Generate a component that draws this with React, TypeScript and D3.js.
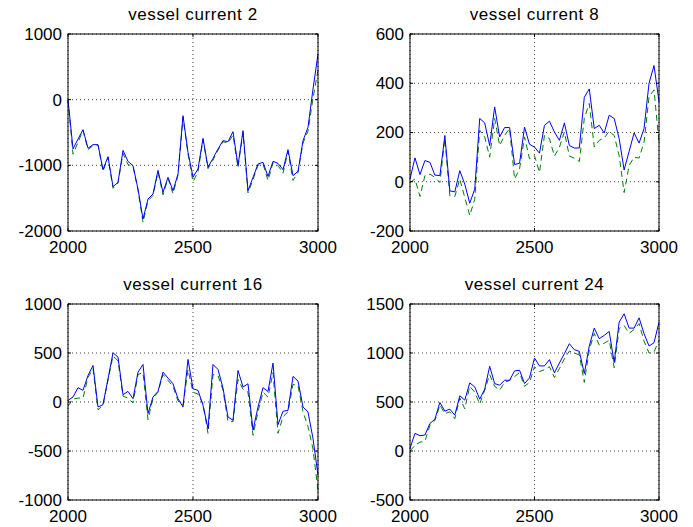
import React, { useEffect, useRef } from "react";
import * as d3 from "d3";

// sample positions along x (2000 .. 3000, every 20)
const xVals = d3.range(2000, 3001, 20);

const titles = ["vessel current 2", "vessel current 8", "vessel current 16", "vessel current 24"];

const yDomains: [number, number][] = [[-2000, 1000], [-200, 600], [-1000, 1000], [-500, 1500]];
const yTicks = [
  [-2000, -1000, 0, 1000],
  [-200, 0, 200, 400, 600],
  [-1000, -500, 0, 500, 1000],
  [-500, 0, 500, 1000, 1500],
];
const xTicks = [2000, 2500, 3000];

// vessel current 2
const blue2 = [0, -750, -600, -457, -740, -685, -685, -1066, -868, -1325, -1260, -772, -940, -1005, -1360, -1817,
  -1513, -1437, -1076, -1411, -1183, -1386, -1132, -244, -802, -1180, -1056, -589, -1030, -893, -751, -624, -640,
  -487, -1005, -472, -1386, -1183, -980, -954, -1168, -939, -970, -1066, -761, -1157, -1091, -624, -421, 162, 695];
const green2 = [0, -830, -650, -470, -760, -700, -690, -1090, -880, -1350, -1270, -820, -990, -1010, -1380, -1870,
  -1540, -1460, -1100, -1450, -1200, -1430, -1150, -270, -830, -1250, -1100, -610, -1050, -920, -770, -640, -660,
  -540, -1030, -500, -1420, -1220, -1000, -980, -1230, -960, -1000, -1120, -790, -1230, -1110, -660, -480, 20, 450];

// vessel current 8
const blue8 = [11, 97, 29, 86, 79, 27, 25, 188, -37, -41, 45, -10, -87, -30, 257, 239, 147, 304, 182, 220, 220, 70,
  75, 222, 152, 141, 116, 229, 246, 202, 168, 239, 147, 137, 137, 343, 377, 216, 229, 198, 270, 257, 175, 48, 123,
  198, 157, 216, 400, 472, 325];
const green8 = [-3, 11, -60, 25, 31, 18, -3, 175, -57, -60, 11, -64, -137, -71, 209, 182, 100, 257, 147, 188, 216, 11,
  52, 182, 93, 106, 38, 188, 175, 104, 140, 202, 104, 96, 82, 257, 318, 141, 168, 178, 205, 188, 106, -44, 66, 100,
  96, 161, 345, 373, 160];

// vessel current 16
const blue16 = [17, 51, 146, 119, 271, 373, -51, -27, 237, 502, 458, 75, 108, 34, 305, 383, -119, 51, 108, 305, 244,
  186, 34, -51, 434, 135, 119, -34, -271, 383, 332, 142, -153, -186, 322, 153, 186, -288, -51, 146, 108, 397, -231,
  -95, -85, 261, 214, -51, -102, -373, -746];
const green16 = [-44, 30, 40, 40, 250, 340, -80, -30, 220, 470, 420, 60, 40, -10, 280, 300, -180, 40, 100, 280, 220,
  160, 10, -30, 330, 100, 80, -20, -320, 280, 270, 120, -200, -200, 230, 130, 100, -340, -100, 100, 50, 300, -320,
  -150, -100, 180, 170, -100, -250, -480, -900];

// vessel current 24
const blue24 = [27, 180, 156, 163, 281, 325, 495, 407, 427, 366, 563, 519, 695, 654, 529, 631, 864, 688, 671, 722,
  722, 817, 824, 688, 746, 949, 868, 868, 932, 797, 898, 993, 1095, 1034, 1017, 790, 1071, 1254, 1146, 1180, 1220,
  902, 1315, 1400, 1254, 1254, 1359, 1197, 1071, 1105, 1315];
const green24 = [0, 60, 90, 100, 260, 310, 470, 380, 400, 330, 540, 430, 660, 600, 480, 620, 780, 660, 620, 700, 720,
  760, 800, 660, 700, 860, 810, 830, 860, 750, 840, 940, 1020, 1000, 980, 700, 1030, 1200, 1080, 1100, 1130, 850,
  1250, 1280, 1200, 1240, 1300, 1120, 1000, 1010, 1130];

const blues = [blue2, blue8, blue16, blue24];
const greens = [green2, green8, green16, green24];

const App = () => {
  const svgRef = useRef<SVGSVGElement | null>(null);

  useEffect(() => {
    const svg = d3.select(svgRef.current);
    svg.selectAll("*").remove();

    const font = "Liberation Sans, Arial, Helvetica, sans-serif";
    const cols = [[68, 318], [410, 659]];
    const rows = [[34, 231], [304, 500]];

    titles.forEach((title, i) => {
      const [x0, x1] = cols[i % 2];
      const [y0, y1] = rows[Math.floor(i / 2)];

      const x = d3.scaleLinear().domain([2000, 3000]).range([x0, x1]);
      const y = d3.scaleLinear().domain(yDomains[i]).range([y1, y0]);

      const g = svg.append("g");

      // white plot area
      g.append("rect").attr("x", x0).attr("y", y0).attr("width", x1 - x0).attr("height", y1 - y0).attr("fill", "#fff");

      // dotted grid
      g.selectAll(".gx").data(xTicks).join("line")
        .attr("x1", d => x(d)).attr("x2", d => x(d)).attr("y1", y0).attr("y2", y1)
        .attr("stroke", "#444").attr("stroke-width", 1).attr("stroke-dasharray", "1,3");
      g.selectAll(".gy").data(yTicks[i]).join("line")
        .attr("x1", x0).attr("x2", x1).attr("y1", d => y(d)).attr("y2", d => y(d))
        .attr("stroke", "#444").attr("stroke-width", 1).attr("stroke-dasharray", "1,3");

      const line = d3.line<number>().x((_, k) => x(xVals[k])).y(d => y(d));

      g.append("path").datum(greens[i])
        .attr("fill", "none").attr("stroke", "#008000").attr("stroke-width", 1)
        .attr("stroke-dasharray", "6,4").attr("d", line);
      g.append("path").datum(blues[i])
        .attr("fill", "none").attr("stroke", "#0000ff").attr("stroke-width", 1).attr("d", line);

      // inward ticks on all four sides
      const tl = 3;
      xTicks.forEach(t => {
        g.append("line").attr("x1", x(t)).attr("x2", x(t)).attr("y1", y1).attr("y2", y1 - tl).attr("stroke", "#000");
        g.append("line").attr("x1", x(t)).attr("x2", x(t)).attr("y1", y0).attr("y2", y0 + tl).attr("stroke", "#000");
      });
      yTicks[i].forEach(t => {
        g.append("line").attr("x1", x0).attr("x2", x0 + tl).attr("y1", y(t)).attr("y2", y(t)).attr("stroke", "#000");
        g.append("line").attr("x1", x1).attr("x2", x1 - tl).attr("y1", y(t)).attr("y2", y(t)).attr("stroke", "#000");
      });

      // box
      g.append("rect").attr("x", x0).attr("y", y0).attr("width", x1 - x0).attr("height", y1 - y0)
        .attr("fill", "none").attr("stroke", "#000").attr("stroke-width", 1);

      // tick labels
      g.selectAll(".xl").data(xTicks).join("text")
        .attr("x", d => x(d)).attr("y", y1 + 22)
        .attr("text-anchor", "middle").attr("font-family", font).attr("font-size", 17)
        .text(d => d);
      g.selectAll(".yl").data(yTicks[i]).join("text")
        .attr("x", x0 - 6).attr("y", d => y(d)).attr("dy", "0.35em")
        .attr("text-anchor", "end").attr("font-family", font).attr("font-size", 17)
        .text(d => d);

      // title
      g.append("text")
        .attr("x", (x0 + x1) / 2).attr("y", y0 - 14)
        .attr("text-anchor", "middle").attr("font-family", font).attr("font-size", 17)
        .attr("letter-spacing", 0.6)
        .text(title);
    });
  }, []);

  return (
    <svg ref={svgRef} width={693} height={527}
      style={{ position: "absolute", left: 0, top: 0, background: "#fff" }} />
  );
};

export default App;
